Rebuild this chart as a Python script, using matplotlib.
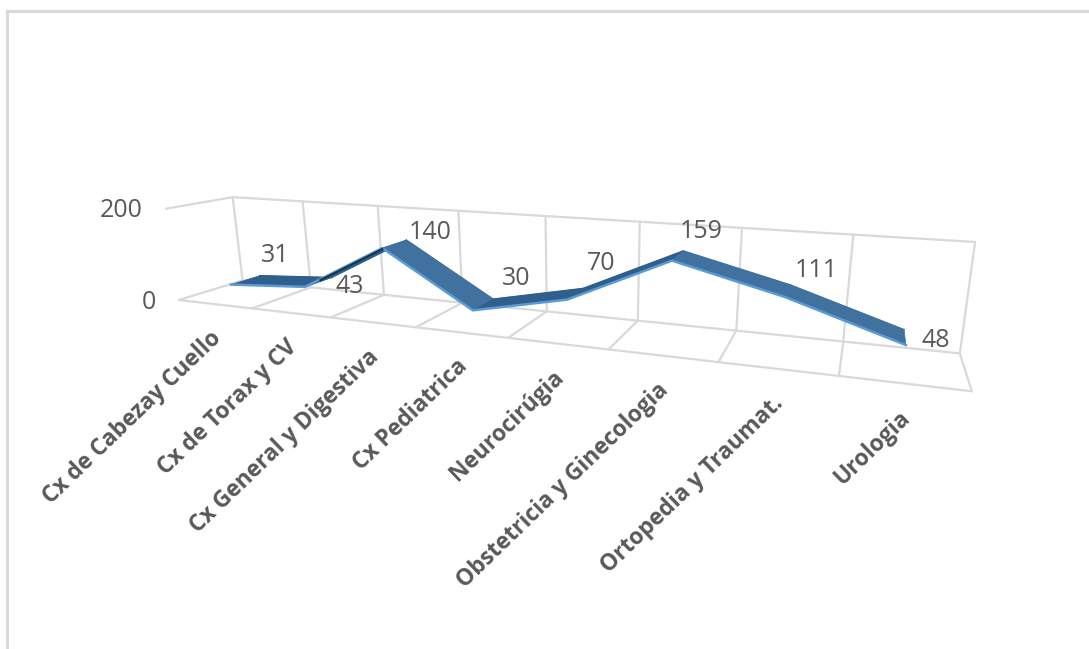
import numpy as np
import matplotlib
matplotlib.use('Agg')
import matplotlib.pyplot as plt

categorias = ['Cx de Cabezay Cuello', 'Cx de Torax y CV', 'Cx General y Digestiva', 'Cx Pediatrica',
              'Neurocirúgia', 'Obstetricia y Ginecologia', 'Ortopedia y Traumat.', 'Urologia']
valores = [31, 43, 140, 30, 70, 159, 111, 48]
ticks = [0, 200]

# camera matrix: (categoria, valor / 200, profundidad, 1) -> pixeles
P = np.array([[63.84249, -18.27921, 87.96704, 179.0024],
              [-2.786861, -97.85606, 8.609367, 300.0035],
              [-0.03627464, -0.03141046, 0.1004514, 1]])


def proyectar(u, v, w):
    h = P @ np.array([u, v / 200, w, 1.0])
    return h[0] / h[2], h[1] / h[2]


plt.rcParams['font.family'] = ['Open Sans', 'DejaVu Sans']
fig = plt.figure(figsize=(10.89, 6.49), dpi=100)
ax = fig.add_axes([0, 0, 1, 1])
ax.set_xlim(0, 1089)
ax.set_ylim(649, 0)
ax.axis('off')

gris = '#d9d9d9'
texto = '#595959'
azul = '#41719f'
azul_oscuro = '#2f5f8c'
azul_claro = '#5b9bd5'
negro = '#16324c'

# marco exterior
ax.plot([7, 7, 1089], [649, 11, 11], color=gris, lw=2.2, solid_joinstyle='miter')


def linea(a, b):
    xa, ya = proyectar(*a)
    xb, yb = proyectar(*b)
    ax.plot([xa, xb], [ya, yb], color=gris, lw=1.6, solid_capstyle='round', zorder=1)


n = len(categorias)
for i in range(n + 1):
    linea((i, 0, 0), (i, 0, 1))
    linea((i, 0, 1), (i, ticks[1], 1))
linea((0, 0, 0), (n, 0, 0))
linea((0, 0, 1), (n, 0, 1))
linea((0, ticks[1], 1), (n, ticks[1], 1))
linea((0, ticks[1], 0), (0, ticks[1], 1))

# cinta de la serie
w_frente, w_fondo = 0.27, 0.74
frente = [proyectar(i + 0.5, v, w_frente) for i, v in enumerate(valores)]
fondo = [proyectar(i + 0.5, v, w_fondo) for i, v in enumerate(valores)]
for i in range(n - 1):
    sube = valores[i + 1] > valores[i]
    color = azul_oscuro if sube else azul
    xs = [frente[i][0], frente[i + 1][0], fondo[i + 1][0], fondo[i][0]]
    ys = [frente[i][1], frente[i + 1][1], fondo[i + 1][1], fondo[i][1]]
    ax.fill(xs, ys, color=color, lw=0.5, zorder=3)
    ax.plot([fondo[i][0], fondo[i + 1][0]], [fondo[i][1], fondo[i + 1][1]], color=color, lw=1, zorder=3)
ax.plot(*zip(*frente), color=azul_claro, lw=1.8, solid_joinstyle='round', zorder=4)

# borde oscuro del tramo que sube mas
xa, ya = frente[1]
xb, yb = frente[2]
ax.plot([xa + 0.2 * (xb - xa), xb], [ya + 0.2 * (yb - ya) + 1, yb + 1], color=negro, lw=1.5, zorder=5)

# etiquetas de datos
desp = [(44, -29), (45, 0), (48, -16), (43, -32), (34, -36), (29, -29), (31, -27), (30, -5)]
for i, v in enumerate(valores):
    ax.annotate(str(v), frente[i], xytext=(desp[i][0] * 0.72, -desp[i][1] * 0.72), textcoords='offset points',
                ha='center', va='center', fontsize=18, color=texto, zorder=6)

# eje de valores
for t in ticks:
    x, y = proyectar(0, t, 0)
    ax.annotate(str(t), (x, y), xytext=(-23 * 0.72, -2 * 0.72), textcoords='offset points',
                ha='right', va='center', fontsize=18, color=texto)

# categorias giradas
for i, c in enumerate(categorias):
    x, y = proyectar(i + 0.5, 0, 0)
    ax.annotate(c, (x, y), xytext=(3 * 0.72, -31 * 0.72), textcoords='offset points', rotation=44,
                rotation_mode='anchor', ha='right', va='center', fontsize=16.4, fontweight='bold', color=texto)

fig.savefig('out.png', dpi=100)
